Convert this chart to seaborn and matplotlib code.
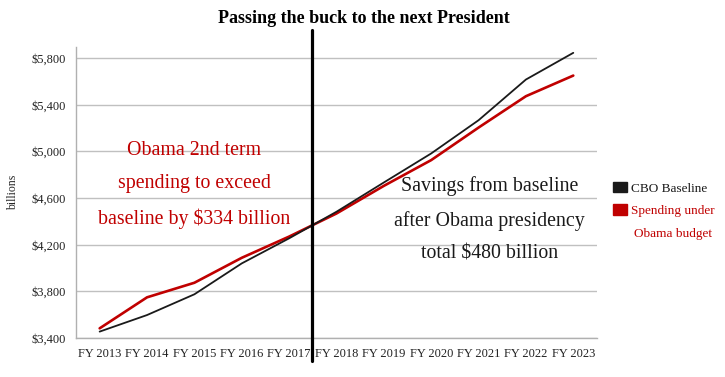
import numpy as np
import matplotlib
matplotlib.use('Agg')
import matplotlib.pyplot as plt
from matplotlib.patches import Patch
import seaborn as sns
import pandas as pd

years = ['FY 2013', 'FY 2014', 'FY 2015', 'FY 2016', 'FY 2017', 'FY 2018',
         'FY 2019', 'FY 2020', 'FY 2021', 'FY 2022', 'FY 2023']
cbo_baseline = [3455, 3597, 3775, 4040, 4255, 4483, 4734, 4983, 5268, 5617, 5846]
obama_budget = [3483, 3749, 3874, 4088, 4270, 4468, 4705, 4926, 5205, 5474, 5651]
y_ticks = [3400, 3800, 4200, 4600, 5000, 5400, 5800]

BLACK = '#1a1a1a'
RED = '#c00000'

sns.set_style('white')
plt.rcParams['font.family'] = ['Liberation Serif', 'DejaVu Serif']

df = pd.DataFrame({
    'year': years * 2,
    'pos': list(range(len(years))) * 2,
    'value': cbo_baseline + obama_budget,
    'series': ['CBO Baseline'] * len(years) + ['Obama budget'] * len(years),
})

fig = plt.figure(figsize=(7.25, 3.77), dpi=100)
ax = fig.add_axes([0.1048, 0.1034, 0.7186, 0.7716])

sns.lineplot(data=df[df.series == 'CBO Baseline'], x='pos', y='value', ax=ax,
             color=BLACK, linewidth=1.3, zorder=3)
sns.lineplot(data=df[df.series == 'Obama budget'], x='pos', y='value', ax=ax,
             color=RED, linewidth=1.9, zorder=2)

ax.set_xlim(-0.5, len(years) - 0.5)
ax.set_ylim(3400, 5895)
ax.set_yticks(y_ticks)
ax.set_yticklabels(['${:,}'.format(v) for v in y_ticks], fontsize=9, color='#222222')
ax.set_xticks(np.arange(len(years)))
ax.set_xticklabels(years, fontsize=9, color='#222222')
ax.set_xticks(np.arange(-0.5, len(years)), minor=True)
ax.tick_params(axis='x', which='major', length=0, pad=7)
ax.tick_params(axis='x', which='minor', length=5, color='#b0b0b0', direction='out')
ax.tick_params(axis='y', length=4, color='#b0b0b0', direction='out', pad=3)
ax.yaxis.grid(True, color='#c0c0c0', linewidth=1)
ax.set_axisbelow(True)
for s in ['top', 'right']:
    ax.spines[s].set_visible(False)
for s in ['left', 'bottom']:
    ax.spines[s].set_color('#b0b0b0')
    ax.spines[s].set_linewidth(1)
ax.set_xlabel('')
ax.set_ylabel('billions', fontsize=8.5, labelpad=9)

# divider between terms
ax.plot([4.48, 4.48], [-0.08, 1.06], transform=ax.get_xaxis_transform(),
        color='black', linewidth=2.3, clip_on=False, zorder=5)

fig.text(0.502, 0.952, 'Passing the buck to the next President', ha='center',
         va='center', fontsize=13, fontweight='bold', color='black')

ax.text(2.0, 4710, 'Obama 2nd term\nspending to exceed\nbaseline by $334 billion',
        ha='center', va='center', ma='center', fontsize=14.3, color=RED,
        linespacing=2.0, zorder=6)
ax.text(8.23, 4412, 'Savings from baseline\nafter Obama presidency\ntotal $480 billion',
        ha='center', va='center', ma='center', fontsize=14.3, color='#1a1a1a',
        linespacing=2.0, zorder=6)

handles = [Patch(facecolor=BLACK, edgecolor=BLACK),
           Patch(facecolor=RED, edgecolor=RED)]
leg = fig.legend(handles, ['CBO Baseline', 'Spending under'],
                 loc='upper left', bbox_to_anchor=(0.836, 0.535), frameon=False,
                 fontsize=9.5, handlelength=1.1, handleheight=0.8, handletextpad=0.25,
                 labelspacing=0.75, borderpad=0, labelcolor=[BLACK, RED])
fig.text(0.928, 0.379, 'Obama budget', ha='center', va='center', fontsize=9.5,
         color=RED)

fig.savefig('out.png', dpi=100)
